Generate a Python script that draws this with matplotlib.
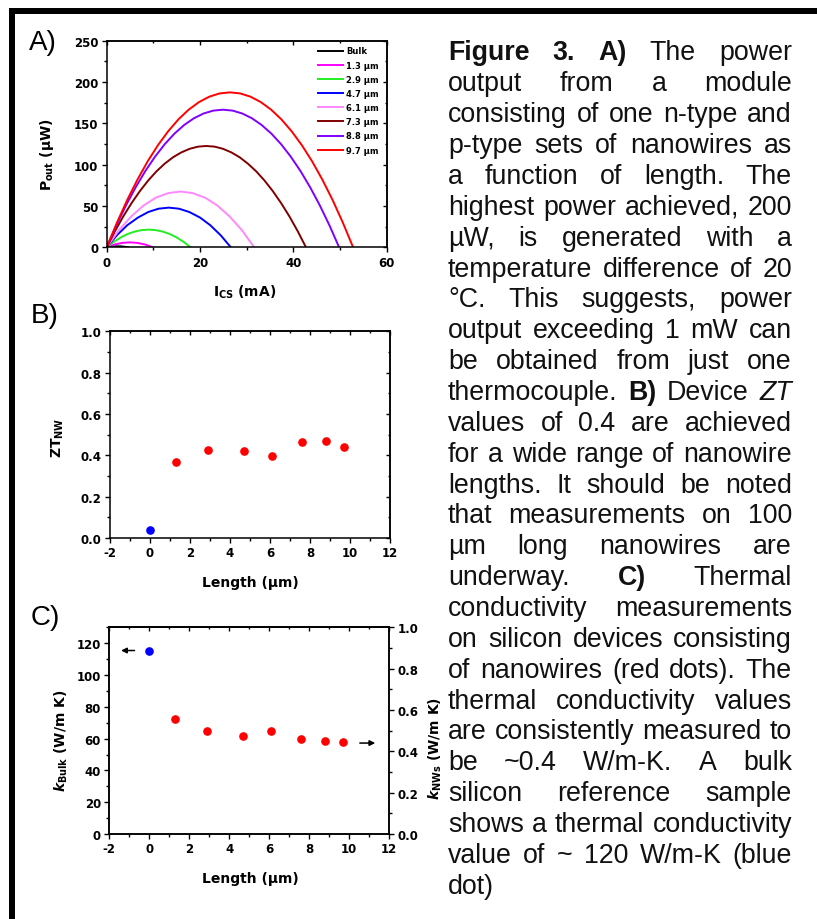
import matplotlib.pyplot as plt
from matplotlib.patches import Rectangle
from matplotlib.ticker import MultipleLocator
from matplotlib.transforms import IdentityTransform

plt.rcParams['font.family'] = 'DejaVu Sans'
plt.rcParams['font.weight'] = 'bold'
plt.rcParams['mathtext.fontset'] = 'custom'
plt.rcParams['mathtext.rm'] = 'DejaVu Sans:bold'
plt.rcParams['mathtext.bf'] = 'DejaVu Sans:bold'
plt.rcParams['mathtext.it'] = 'DejaVu Sans:italic:bold'
plt.rcParams['axes.linewidth'] = 1.1
plt.rcParams['axes.unicode_minus'] = False

# A) power output vs current, one curve per nanowire length
curve_labels = ['Bulk', '1.3 µm', '2.9 µm', '4.7 µm', '6.1 µm', '7.3 µm', '8.8 µm', '9.7 µm']
current_bulk = [0, 0.8, 1.5, 2.3, 3.1, 3.8, 4.6]
power_bulk = [0, 0.7, 1.1, 1.2, 1.1, 0.7, 0]
current_13 = [0, 1.65, 3.3, 4.95, 6.6, 8.25, 9.9]
power_13 = [0, 3.3, 5.3, 6.0, 5.3, 3.3, 0]
current_29 = [0, 1.5, 3.0, 4.5, 6.0, 7.5, 9.0, 10.5, 12.0, 13.5, 15.0, 16.5, 18.0]
power_29 = [0, 6.5, 11.9, 16.1, 19.0, 20.8, 21.4, 20.8, 19.0, 16.1, 11.9, 6.5, 0]
current_47 = [0, 2.2, 4.4, 6.7, 8.9, 11.1, 13.3, 15.5, 17.7, 20.0, 22.2, 24.4, 26.6]
power_47 = [0, 14.7, 26.7, 36.0, 42.7, 46.7, 48.0, 46.7, 42.7, 36.0, 26.7, 14.7, 0]
current_61 = [0, 2.6, 5.3, 7.9, 10.5, 13.2, 15.8, 18.4, 21.1, 23.7, 26.3, 29.0, 31.6]
power_61 = [0, 20.6, 37.5, 50.6, 60.0, 65.6, 67.5, 65.6, 60.0, 50.6, 37.5, 20.6, 0]
current_73 = [0, 1.78, 3.56, 5.34, 7.12, 8.9, 10.68, 12.45, 14.23, 16.01, 17.79, 19.57, 21.35,
              23.13, 24.91, 26.69, 28.47, 30.24, 32.02, 33.8, 35.58, 37.36, 39.14, 40.92, 42.7]
power_73 = [0, 19.6, 37.5, 53.6, 68.1, 80.9, 92.0, 101.3, 109.0, 114.9, 119.2, 121.8, 122.6,
            121.8, 119.2, 114.9, 109.0, 101.3, 92.0, 80.9, 68.1, 53.6, 37.5, 19.6, 0]
current_88 = [0, 2.08, 4.15, 6.23, 8.3, 10.38, 12.45, 14.53, 16.6, 18.68, 20.75, 22.83, 24.9,
              26.98, 29.05, 31.13, 33.2, 35.28, 37.35, 39.43, 41.5, 43.58, 45.65, 47.73, 49.8]
power_88 = [0, 26.6, 50.9, 72.8, 92.5, 109.8, 124.9, 137.6, 148.0, 156.1, 161.9, 165.4, 166.5,
            165.4, 161.9, 156.1, 148.0, 137.6, 124.9, 109.8, 92.5, 72.8, 50.9, 26.6, 0]
current_97 = [0, 2.2, 4.4, 6.6, 8.8, 11.0, 13.2, 15.4, 17.6, 19.8, 22.0, 24.2, 26.4,
              28.6, 30.8, 33.0, 35.2, 37.4, 39.6, 41.8, 44.0, 46.2, 48.4, 50.6, 52.8]
power_97 = [0, 29.9, 57.3, 82.0, 104.2, 123.7, 140.6, 155.0, 166.7, 175.8, 182.3, 186.2, 187.5,
            186.2, 182.3, 175.8, 166.7, 155.0, 140.6, 123.7, 104.2, 82.0, 57.3, 29.9, 0]

# B) ZT and C) thermal conductivity vs length
length_bulk = [0.0]
length_nw = [1.3, 2.9, 4.7, 6.1, 7.6, 8.8, 9.7]
zt_bulk = [0.04]
zt_nw = [0.368, 0.424, 0.419, 0.395, 0.463, 0.468, 0.439]
k_bulk = [115.4]
k_nw = [0.555, 0.500, 0.473, 0.497, 0.461, 0.452, 0.447]

curve_colors = ['black', '#ff00ff', '#22ee22', '#0000ff', '#ff88ff', '#800000', '#8000ff', '#ff0000']

W, H = 817, 920
fig = plt.figure(figsize=(W / 100, H / 100), dpi=100)
TICK_FS = 8.5
LABEL_FS = 10


def px_axes(left, top, right, bottom):
    return fig.add_axes([left / W, 1 - bottom / H, (right - left) / W, (bottom - top) / H])


def style_ticks(ax):
    ax.tick_params(which='both', direction='out', labelsize=TICK_FS, width=1, pad=2.5)
    ax.tick_params(which='major', length=3.5)
    ax.tick_params(which='minor', length=2)


def mirror(ax, xmaj, xmin, ymaj=None, ymin=None):
    top = ax.secondary_xaxis('top')
    top.xaxis.set_major_locator(MultipleLocator(xmaj))
    top.xaxis.set_minor_locator(MultipleLocator(xmin))
    top.tick_params(which='both', direction='in', labeltop=False, width=1)
    top.tick_params(which='major', length=3)
    top.tick_params(which='minor', length=1.5)
    if ymaj is not None:
        right = ax.secondary_yaxis('right')
        right.yaxis.set_major_locator(MultipleLocator(ymaj))
        right.yaxis.set_minor_locator(MultipleLocator(ymin))
        right.tick_params(which='both', direction='in', labelright=False, width=1)
        right.tick_params(which='major', length=3)
        right.tick_params(which='minor', length=1.5)


# ---- A
ax_a = px_axes(106.7, 41.7, 386.7, 248.3)
curves = [(current_bulk, power_bulk), (current_13, power_13), (current_29, power_29),
          (current_47, power_47), (current_61, power_61), (current_73, power_73),
          (current_88, power_88), (current_97, power_97)]
for (cur, pw), lab, col in zip(curves, curve_labels, curve_colors):
    ax_a.plot(cur, pw, color=col, lw=1.4, label=lab)
ax_a.set_xlim(0, 60)
ax_a.set_ylim(0, 250)
ax_a.xaxis.set_major_locator(MultipleLocator(20))
ax_a.xaxis.set_minor_locator(MultipleLocator(10))
ax_a.yaxis.set_major_locator(MultipleLocator(50))
ax_a.yaxis.set_minor_locator(MultipleLocator(25))
style_ticks(ax_a)
mirror(ax_a, 20, 10, 50, 25)
ax_a.legend(loc='upper left', bbox_to_anchor=(0.755, 0.972), frameon=False, fontsize=6,
            handlelength=3.0, handletextpad=0.4, labelspacing=0.62, borderpad=0, borderaxespad=0)
ax_a.text(-0.213, 0.452, r'P$_{\mathrm{out}}$ (µW)', rotation=90, ha='center', va='center',
          fontsize=LABEL_FS, transform=ax_a.transAxes)
ax_a.text(0.494, -0.212, r'I$_{\mathrm{CS}}$ (mA)', ha='center', va='center',
          fontsize=LABEL_FS, transform=ax_a.transAxes)

# ---- B
ax_b = px_axes(110, 332.3, 390, 539)
ax_b.plot(length_bulk, zt_bulk, 'o', color='#0000ff', ms=5.2)
ax_b.plot(length_nw, zt_nw, 'o', color='#ff0000', ms=5.2)
ax_b.set_xlim(-2, 12)
ax_b.set_ylim(0, 1.0)
ax_b.xaxis.set_major_locator(MultipleLocator(2))
ax_b.xaxis.set_minor_locator(MultipleLocator(1))
ax_b.yaxis.set_major_locator(MultipleLocator(0.2))
ax_b.yaxis.set_minor_locator(MultipleLocator(0.1))
ax_b.yaxis.set_major_formatter('{x:.1f}')
style_ticks(ax_b)
mirror(ax_b, 2, 1, 0.2, 0.1)
ax_b.text(-0.186, 0.49, r'ZT$_{\mathrm{NW}}$', rotation=90, ha='center', va='center',
          fontsize=LABEL_FS, transform=ax_b.transAxes)
ax_b.text(0.5, -0.213, 'Length (µm)', ha='center', va='center', fontsize=LABEL_FS,
          transform=ax_b.transAxes)

# ---- C
ax_c = px_axes(109.3, 628.3, 389, 835)
ax_c.plot(length_bulk, k_bulk, 'o', color='#0000ff', ms=5.2)
ax_c.set_xlim(-2, 12)
ax_c.set_ylim(0, 130)
ax_c.xaxis.set_major_locator(MultipleLocator(2))
ax_c.xaxis.set_minor_locator(MultipleLocator(1))
ax_c.yaxis.set_major_locator(MultipleLocator(20))
ax_c.yaxis.set_minor_locator(MultipleLocator(10))
style_ticks(ax_c)
mirror(ax_c, 2, 1)
ax_c2 = ax_c.twinx()
ax_c2.plot(length_nw, k_nw, 'o', color='#ff0000', ms=5.2)
ax_c2.set_ylim(0, 1.0)
ax_c2.yaxis.set_major_locator(MultipleLocator(0.2))
ax_c2.yaxis.set_minor_locator(MultipleLocator(0.1))
ax_c2.yaxis.set_major_formatter('{x:.1f}')
style_ticks(ax_c2)
ax_c.annotate('', xy=(-1.55, 115.4), xytext=(-0.6, 115.4),
              arrowprops=dict(arrowstyle='-|>', color='black', lw=1.1, mutation_scale=8))
ax_c2.annotate('', xy=(11.45, 0.44), xytext=(10.4, 0.44),
               arrowprops=dict(arrowstyle='-|>', color='black', lw=1.1, mutation_scale=8))
ax_c.text(-0.172, 0.455, r'$k_{\mathrm{Bulk}}$ (W/m K)', rotation=90, ha='center', va='center',
          fontsize=LABEL_FS, transform=ax_c.transAxes)
ax_c.text(1.164, 0.416, r'$k_{\mathrm{NWs}}$ (W/m K)', rotation=90, ha='center', va='center',
          fontsize=LABEL_FS, transform=ax_c.transAxes)
ax_c.text(0.503, -0.213, 'Length (µm)', ha='center', va='center', fontsize=LABEL_FS,
          transform=ax_c.transAxes)

# panel letters
for letter, (x, y) in zip(['A)', 'B)', 'C)'], [(29, 30), (31, 303), (31, 605)]):
    fig.text(x / W, 1 - y / H, letter, ha='left', va='top', fontsize=20,
             family='Liberation Sans', weight='normal')

# frame
fig.add_artist(Rectangle((9 / W, 1 - 15 / H), (W - 9) / W, 6 / H, transform=fig.transFigure,
                         color='black', lw=0))
fig.add_artist(Rectangle((9 / W, 0), 6 / W, (H - 9) / H, transform=fig.transFigure,
                         color='black', lw=0))

# caption, justified word by word
caption_lines = [
    'Figure 3. A) The power',
    'output from a module',
    'consisting of one n-type and',
    'p-type sets of nanowires as',
    'a function of length. The',
    'highest power achieved, 200',
    'µW, is generated with a',
    'temperature difference of 20',
    '°C. This suggests, power',
    'output exceeding 1 mW can',
    'be obtained from just one',
    'thermocouple. B) Device ZT',
    'values of 0.4 are achieved',
    'for a wide range of nanowire',
    'lengths. It should be noted',
    'that measurements on 100',
    'µm long nanowires are',
    'underway. C) Thermal',
    'conductivity measurements',
    'on silicon devices consisting',
    'of nanowires (red dots). The',
    'thermal conductivity values',
    'are consistently measured to',
    'be ~0.4 W/m-K. A bulk',
    'silicon reference sample',
    'shows a thermal conductivity',
    'value of ~ 120 W/m-K (blue',
    'dot)',
]
bold_words = {'Figure', '3.', 'A)', 'B)', 'C)'}
italic_words = {'ZT'}

renderer = fig.canvas.get_renderer()
x_left, x_right = 448, 792
for n, line in enumerate(caption_lines):
    y = H - (60.5 + n * 30.86)
    texts = []
    for word in line.split():
        texts.append(fig.text(0, y, word, transform=IdentityTransform(), fontsize=19.3,
                              family='Liberation Sans', va='baseline', color='#111111',
                              weight='bold' if word in bold_words else 'normal',
                              style='italic' if word in italic_words else 'normal'))
    widths = [t.get_window_extent(renderer).width for t in texts]
    if n == len(caption_lines) - 1 or len(texts) == 1:
        gap = 6
    else:
        gap = (x_right - x_left - sum(widths)) / (len(texts) - 1)
    x = x_left
    for t, w in zip(texts, widths):
        t.set_x(x)
        x += w + gap

fig.savefig('out.png', dpi=100)
